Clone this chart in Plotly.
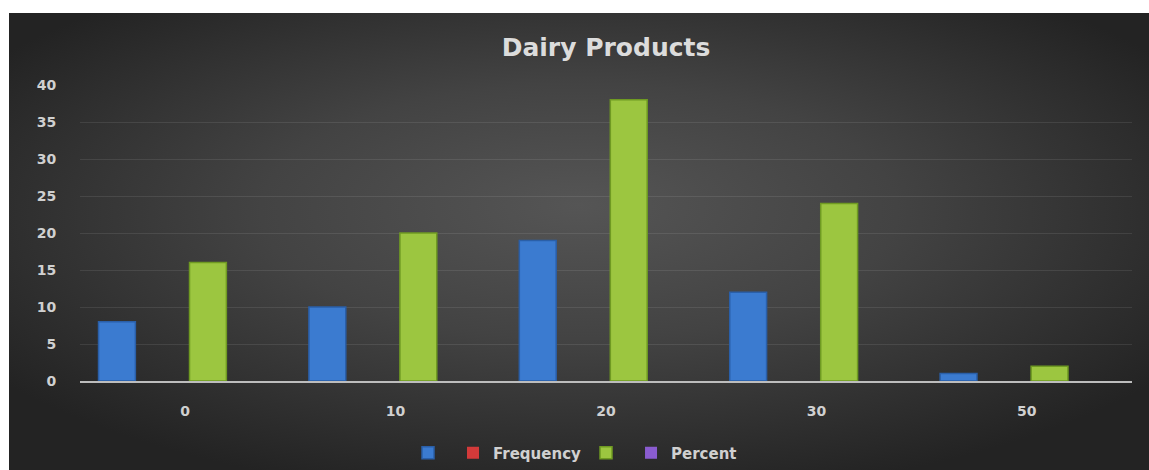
import base64
import plotly.graph_objects as go

# Chart data
categories = ["0", "10", "20", "30", "50"]
series_a = [8, 10, 19, 12, 1]        # unnamed blue series
frequency = [0, 0, 0, 0, 0]
series_b = [16, 20, 38, 24, 2]       # unnamed green series
percent = [0, 0, 0, 0, 0]
y_ticks = [0, 5, 10, 15, 20, 25, 30, 35, 40]

W, H = 1149, 470
ML, MR, MT, MB = 80, 17, 85, 89
PW, PH = W - ML - MR, H - MT - MB

# Dark radial-gradient backdrop as an inline SVG
svg = f"""<svg xmlns='http://www.w3.org/2000/svg' width='{W-9}' height='{H-13}' viewBox='0 0 {W-9} {H-13}' preserveAspectRatio='none'>
<defs><radialGradient id='g' cx='50%' cy='45%' r='62%' fx='50%' fy='42%'>
<stop offset='0%' stop-color='#555555'/>
<stop offset='45%' stop-color='#434343'/>
<stop offset='100%' stop-color='#232323'/>
</radialGradient></defs>
<rect width='100%' height='100%' fill='url(#g)'/></svg>"""
bg_uri = "data:image/svg+xml;base64," + base64.b64encode(svg.encode()).decode()


def px_x(x):
    return (x - ML) / PW


def px_y(y):
    return 1 - (y - MT) / PH


fig = go.Figure()
fig.add_trace(go.Bar(name="", x=categories, y=series_a,
                     marker=dict(color="#3b7bd0", line=dict(color="#2a5fa8", width=1.5))))
fig.add_trace(go.Bar(name="Frequency", x=categories, y=frequency,
                     marker=dict(color="#d33a3a", line=dict(width=0))))
fig.add_trace(go.Bar(name="", x=categories, y=series_b,
                     marker=dict(color="#9cc640", line=dict(color="#6f9a22", width=1.5))))
fig.add_trace(go.Bar(name="Percent", x=categories, y=percent,
                     marker=dict(color="#8a5cd0", line=dict(width=0))))

fig.update_layout(
    width=W, height=H, autosize=False,
    margin=dict(l=ML, r=MR, t=MT, b=MB, autoexpand=False),
    paper_bgcolor="#242424",
    plot_bgcolor="rgba(0,0,0,0)",
    barmode="group",
    bargap=0.135,
    bargroupgap=0.19,
    images=[dict(source=bg_uri, xref="paper", yref="paper",
                 x=px_x(9), y=px_y(13), sizex=(W - 9) / PW, sizey=(H - 13) / PH,
                 xanchor="left", yanchor="top", sizing="stretch", layer="below")],
    shapes=[
        # white frame strips along the top and left edges of the page
        dict(type="rect", xref="paper", yref="paper", x0=px_x(0), x1=px_x(W),
             y0=px_y(13), y1=px_y(0), fillcolor="white", line=dict(width=0), layer="below"),
        dict(type="rect", xref="paper", yref="paper", x0=px_x(0), x1=px_x(9),
             y0=px_y(H), y1=px_y(0), fillcolor="white", line=dict(width=0), layer="below"),
    ],
    title=dict(text="Dairy Products", x=0.5, xref="paper", y=1 - 47 / H, yanchor="middle",
               font=dict(family="DejaVu Sans", size=25, color="#dcdcdc", weight="bold")),
    xaxis=dict(showline=True, linecolor="#bdbdbd", linewidth=2,
               ticks="outside", ticklen=16, tickcolor="rgba(0,0,0,0)",
               tickfont=dict(family="DejaVu Sans", size=14, color="#d0d0d0", weight="bold"),
               showgrid=False, fixedrange=True),
    yaxis=dict(range=[0, 40], tickvals=y_ticks, showgrid=True, gridcolor="rgba(255,255,255,0.09)",
               gridwidth=1, zeroline=False,
               ticks="outside", ticklen=20, tickcolor="rgba(0,0,0,0)",
               tickfont=dict(family="DejaVu Sans", size=14, color="#d0d0d0", weight="bold"),
               fixedrange=True),
    legend=dict(orientation="h", xref="container", x=575 / W, xanchor="center",
                yref="container", y=1 - 453 / H, yanchor="middle", bgcolor="rgba(0,0,0,0)",
                font=dict(family="DejaVu Sans", size=15, color="#d0d0d0", weight="bold"),
                itemwidth=30, tracegroupgap=0),
    showlegend=True,
)

fig.write_html("out.html")
